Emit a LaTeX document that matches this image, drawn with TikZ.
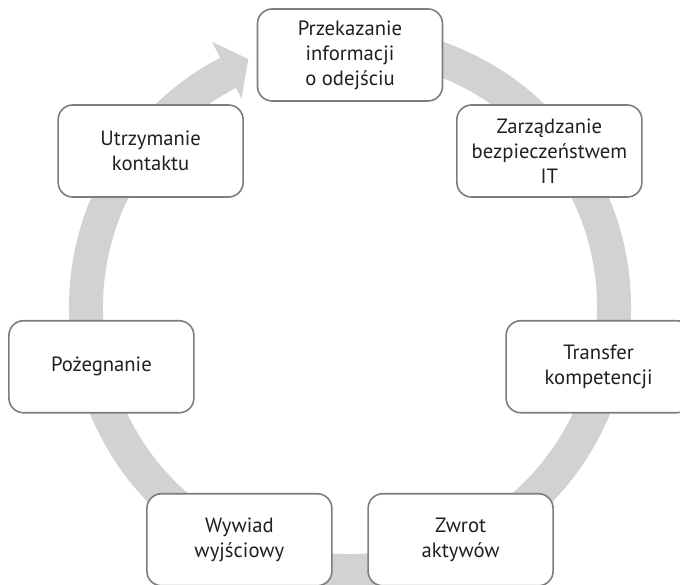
\documentclass[tikz,border=0pt]{standalone}
\usepackage{fontspec}
\setmainfont{PT Sans}
\definecolor{ringgray}{RGB}{209,210,212}
\definecolor{boxline}{RGB}{125,125,128}
\definecolor{txt}{RGB}{35,31,32}
\begin{document}
\begin{tikzpicture}[x=0.75pt,y=0.75pt,
  cyclebox/.style={draw=boxline, line width=1.2pt, fill=white, rounded corners=11pt,
    minimum width=138.75pt, minimum height=69pt, align=center, text=txt,
    font=\fontsize{15.5}{18.75}\selectfont, inner sep=0pt}]
\useasboundingbox (0,0) rectangle (680,584);
\clip (0,0) rectangle (680,584);
\coordinate (rc) at (350,277);
\coordinate (bc) at (350,274);
% ring with arrowhead
\fill[ringgray, shift={(rc)}] (85:281) arc[start angle=85, end angle=-242.5, radius=281]
  -- (-242.5:299) -- (-247.7:268) -- (-242.5:235) -- (-242.5:247)
  arc[start angle=-242.5, end angle=85, radius=247] -- cycle;
% boxes
\node[cyclebox] (n1) at ([shift={(90:255)}]bc) {Przekazanie\\informacji\\o odejściu};
\node[cyclebox] (n2) at ([shift={(38.57:255)}]bc) {Zarządzanie\\bezpieczeństwem\\IT};
\node[cyclebox] (n3) at ([shift={(-12.86:255)}]bc) {Transfer\\kompetencji};
\node[cyclebox] (n4) at ([shift={(-64.29:255)}]bc) {Zwrot\\aktywów};
\node[cyclebox] (n5) at ([shift={(-115.71:255)}]bc) {Wywiad\\wyjściowy};
\node[cyclebox] (n6) at ([shift={(-167.14:255)}]bc) {Pożegnanie};
\node[cyclebox] (n7) at ([shift={(141.43:255)}]bc) {Utrzymanie\\kontaktu};
\end{tikzpicture}
\end{document}
